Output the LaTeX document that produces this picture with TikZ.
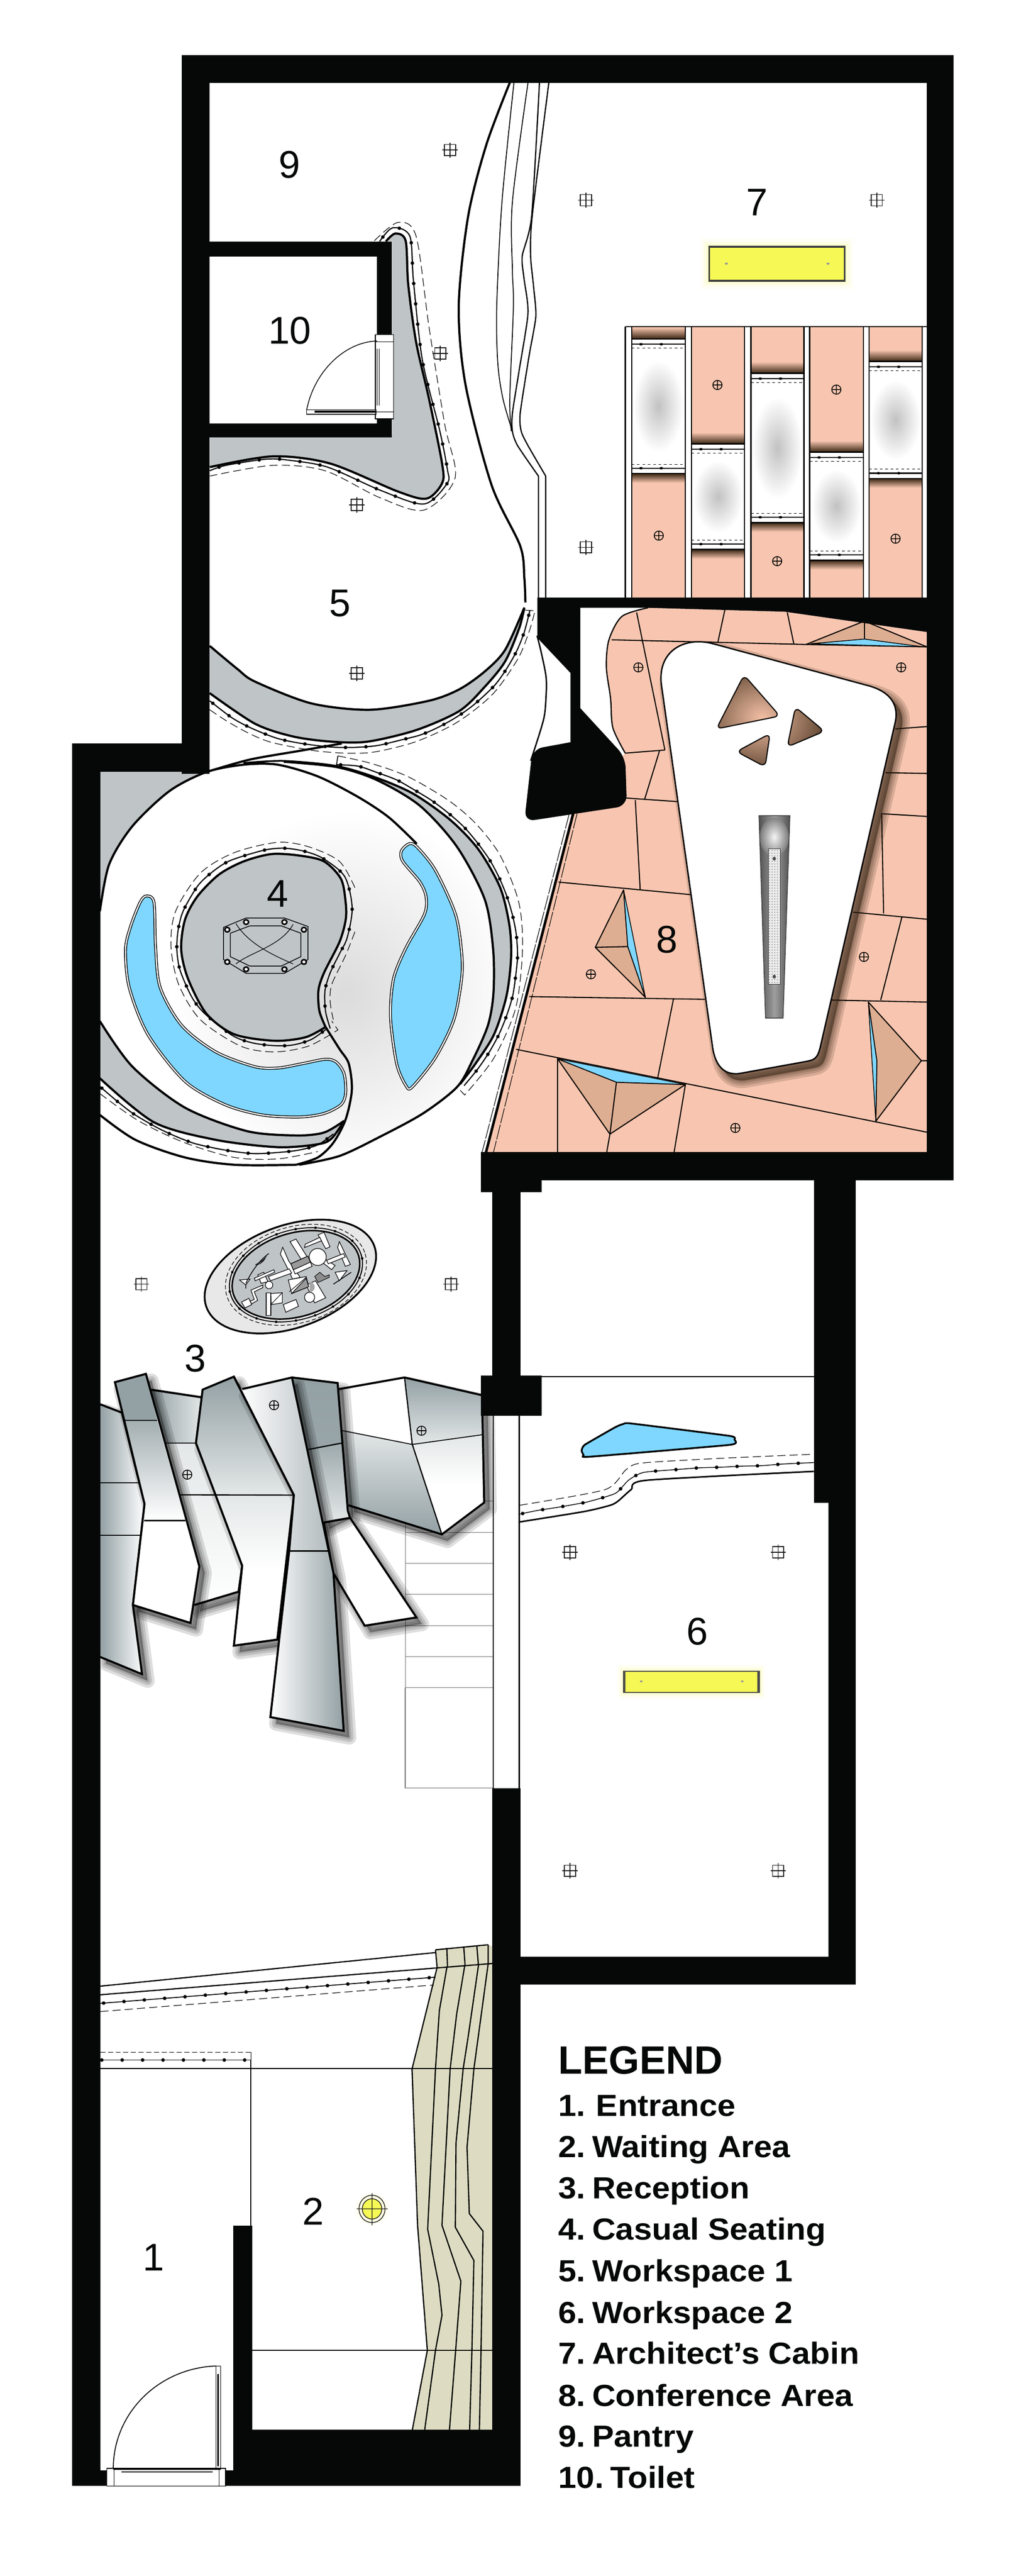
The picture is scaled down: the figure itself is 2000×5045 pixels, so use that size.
\documentclass[tikz,border=0pt]{standalone}
\usepackage{fontspec}
\setmainfont{Liberation Sans}
\usetikzlibrary{decorations.markings,patterns}
\definecolor{wallc}{HTML}{060808}
\definecolor{floorgray}{HTML}{BFC4C7}
\definecolor{pinkf}{HTML}{F8C6B0}
\definecolor{tanf}{HTML}{DEAE92}
\definecolor{bluef}{HTML}{7FD7FF}
\definecolor{yellowf}{HTML}{F6F955}
\definecolor{beigef}{HTML}{DDDCC3}
\definecolor{fing}{HTML}{93A0A4}
\definecolor{finl}{HTML}{E3E7E7}
\tikzset{
 z1/.style={shift={(300,80)},x=.20408mm,y=-.14031mm},
 z2/.style={shift={(900,1100)},x=.12755mm,y=-.15306mm},
 z3/.style={shift={(120,1400)},x=.12117mm,y=-.11480mm},
 z4/.style={shift={(120,2250)},x=.12755mm,y=-.14031mm},
 z5/.style={shift={(900,2200)},x=.10204mm,y=-.20408mm},
 z6/.style={shift={(120,3700)},x=.12755mm,y=-.15306mm},
 z8/.style={shift={(400,850)},x=.1mm,y=-.1mm},
 z9/.style={shift={(190,2650)},x=.10842mm,y=-.10842mm},
 z10/.style={shift={(400,2380)},x=.06667mm,y=-.06667mm},
 thickedge/.style={line width=.85mm,black,line join=round},
 midedge/.style={line width=.48mm,black,line join=round},
 thinedge/.style={line width=.35mm,black,line join=round},
 dashrail/.style={line width=.24mm,black,dash pattern=on 3.2mm off 1.6mm},
 railline/.style={line width=.45mm,black,postaction={decorate,decoration={markings,
   mark=between positions 0.01 and 0.995 step 8mm with {\fill (0,0) circle (.7mm);}}}},
 tinyrail/.style={line width=.3mm,black,postaction={decorate,decoration={markings,
   mark=between positions 0.01 and 0.995 step 7.8mm with {\fill (0,0) circle (.5mm);}}}},
 finedge/.style={line width=.8mm,black,line join=miter},
 floorline/.style={line width=.42mm,black},
 pyramid/.style={fill=tanf,draw=black,line width=.42mm,line join=round},
 sliver/.style={fill=bluef,draw=black,line width=.3mm,line join=round},
 pool/.style={draw=black,double=white,double distance=.5mm,line width=.3mm,line join=round,fill=bluef},
 bits/.style={fill=white,draw=black,line width=.24mm,line join=miter},
 stairline/.style={line width=.24mm,black!55},
 roomno/.style={font=\fontsize{43}{43}\selectfont,text=wallc,inner sep=0pt,anchor=center},
 legendtxt/.style={font=\fontsize{34}{34}\bfseries\selectfont,text=wallc,inner sep=0pt,anchor=base west,xscale=1.07,transform shape},
 legendhead/.style={font=\fontsize{44}{44}\bfseries\selectfont,text=wallc,inner sep=0pt,anchor=base west,transform shape},
}
\newcommand{\softshadow}[1]{\foreach \w in {5.5,3.4,1.6}{\filldraw[draw=black,fill=black,opacity=.13,line width=\w mm,line join=round,xshift=2.2mm,yshift=-2.6mm] #1;}}
\newcommand{\gridlamp}[2]{\draw[line width=.36mm,black!90] (#1-11,#2-11) rectangle (#1+11,#2+11) (#1-15,#2) -- (#1+15,#2) (#1,#2-15) -- (#1,#2+15);}
\newcommand{\pluslamp}[2]{\draw[line width=.32mm,black] (#1,#2) circle [radius=9] (#1-9,#2) -- (#1+9,#2) (#1,#2-9) -- (#1,#2+9);}
\newcommand{\tabletop}{(622,320) .. controls (605,230) and (690,190) .. (780,210) -- (1260,318) .. controls (1330,335) and (1350,370) .. (1340,410) -- (1110,1240) .. controls (1100,1275) and (1090,1275) .. (1060,1280) -- (860,1310) .. controls (810,1315) and (785,1285) .. (778,1240) -- cycle}
\begin{document}
\begin{tikzpicture}[x=.2mm,y=-.2mm]
\useasboundingbox (0,0) rectangle (2000,5045);
\fill[white] (0,0) rectangle (2000,5045);

%% ---------------- Conference floor (8)
\begin{scope}[z2]
\fill[pinkf] (85,1512) -- (345,645) -- (510,490) -- plot[smooth,tension=.5] coordinates {(510,490) (472,425) (465,350) (452,270) (460,200) (500,140) (580,118)} -- (1000,128) -- (1437,180) -- (1437,1512) -- cycle;
\draw[midedge] plot[smooth,tension=.5] coordinates {(510,490) (472,425) (465,350) (452,270) (460,200) (500,140) (580,118)};
\draw[floorline] (545,130)--(632,482) (468,200)--(1070,212) (817,120)--(795,205) (1008,130)--(1028,210)
 (510,490)--(632,482) (615,485)--(570,607) (498,604)--(670,614) (541,610)--(556,840) (305,820)--(710,852)
 (1340,428)--(1437,422) (1310,540)--(1437,542) (1298,645)--(1437,652) (1298,645)--(1304,900)
 (1210,897)--(1437,915) (1360,910)--(1295,1122) (1145,1122)--(1437,1127) (215,1113)--(755,1120)
 (658,1120)--(610,1320) (175,1248)--(1437,1460) (695,1338)--(660,1512) (302,1272)--(302,1512)
 (463,1465)--(453,1512) (1283,1277)--(1437,1277);
% pyramids
\draw[pyramid] (1065,212)--(1245,152)--(1437,218)--cycle; \draw[floorline] (1245,152)--(1245,198);
\draw[sliver] (1080,210)--(1245,198)--(1425,218)--cycle;
\draw[pyramid] (302,1272)--(463,1465)--(695,1338)--(483,1332)--cycle; \draw[floorline] (483,1332)--(463,1465);
\draw[sliver] (302,1272)--(695,1338)--(483,1332)--cycle;
\draw[pyramid] (505,840)--(418,987)--(572,1115)--(518,985)--cycle; \draw[floorline] (418,987)--(518,985);
\draw[sliver] (505,840)--(572,1115)--(518,985)--cycle;
\draw[pyramid] (1257,1127)--(1420,1277)--(1280,1432)--(1283,1277)--cycle;
\draw[sliver] (1257,1127)--(1280,1432)--(1283,1277)--cycle;
% edge rails
\draw[thickedge,line width=1mm] (350,645)--(82,1512);
\draw[dashrail,dash pattern=on 6mm off .6mm] (338,645)--(70,1512);
\draw[dashrail,dash pattern=on 6mm off .6mm] (362,645)--(105,1512);
% table
\foreach \w in {6,4,2.2,.8}{\filldraw[draw=black!75!brown,fill=black!75!brown,opacity=.17,line width=\w mm,xshift=2.4mm,yshift=-2.6mm,line join=round] \tabletop;}
\filldraw[fill=white,draw=black,line width=.55mm] \tabletop;
\foreach \p in {
 {(875,290)--(985,395)--(790,428)--cycle},
 {(1033,372)--(1122,434)--(1008,474)--cycle},
 {(955,440)--(940,525)--(852,486)--cycle}}{
 \begin{scope}
  \path[rounded corners=2.2mm,clip] \p;
  \fill[black!72!brown!60!pinkf] (700,200) rectangle (1200,600);
  \shade[inner color=pinkf!90!brown,outer color=black!70!brown] (930,400) ellipse [x radius=250,y radius=180];
 \end{scope}
 \draw[line width=.42mm,rounded corners=2.2mm] \p;
}
% slot
\shade[left color=black!68,right color=black!68,middle color=black!38] (921,650)--(1016,650)--(995,1168)--(941,1168)--cycle;
\begin{scope}
\clip (921,650)--(1016,650)--(995,1168)--(941,1168)--cycle;
\shade[inner color=white,outer color=black!50,opacity=.9] (968,705) ellipse [x radius=44,y radius=50];
\end{scope}
\draw[line width=.3mm,black!75] (921,650)--(1016,650)--(995,1168)--(941,1168)--cycle;
\filldraw[fill=black!8,draw=black!80,line width=.25mm] (950,735) rectangle (987,1082);
\fill[pattern=dots,pattern color=black!65] (950,735) rectangle (987,1082);
\fill[black!70] (968,760) circle [radius=5] (968,1062) circle [radius=5];
\end{scope}

%% ---------------- Cabin planks (7)
\begin{scope}[z1]
\foreach \xa/\xb/\ya/\yb in {919/1022/832/1208,1034/1136/1125/1420,1148/1250/928/1345,1261/1364/1148/1450,1375/1477/895/1222}{
 \fill[pinkf] (\xa,798) rectangle (\xb,1555);
 \shade[top color=pinkf,bottom color=black!70!brown] (\xa,\ya-32) rectangle (\xb,\ya);
 \shade[top color=black!70!brown,bottom color=pinkf] (\xa,\yb) rectangle (\xb,\yb+26);
 \fill[white] (\xa,\ya) rectangle (\xb,\yb);
 \shade[inner color=black!24,outer color=white] ({(\xa+\xb)/2},{(\ya+\yb)/2}) ellipse [x radius=48,y radius={(\yb-\ya)*.34}];
 \draw[line width=.45mm] (\xa,\ya)--(\xb,\ya) (\xa,\ya+15)--(\xb,\ya+15) (\xa,\yb)--(\xb,\yb) (\xa,\yb-15)--(\xb,\yb-15);
 \draw[line width=.15mm,dashed] (\xa,\ya+26)--(\xb,\ya+26) (\xa,\yb-26)--(\xb,\yb-26);
 \fill ({\xa+18},\ya+15) circle [radius=3.5] ({\xa+57},\ya+15) circle [radius=3.5] ({\xa+18},\yb-15) circle [radius=3.5] ({\xa+57},\yb-15) circle [radius=3.5];
}
\foreach \xa in {907,919,1022,1034,1136,1148,1250,1261,1364,1375,1477}{\draw[midedge] (\xa,798)--(\xa,1555);}
\draw[midedge] (907,798)--(1486,798);
% yellow
\foreach \g/\o in {16/.06,10/.1,5/.16}{\fill[yellowf,opacity=\o] (1068-\g,575-1.4*\g) rectangle (1328+\g,670+1.4*\g);}
\filldraw[fill=yellowf,draw=black!75,line width=.7mm] (1068,575) rectangle (1328,670);
\fill[black!40] (1101,622) circle [radius=3] (1296,622) circle [radius=3];
% pantry grey
\fill[floorgray] (109,1100)--(459,1100)--(459,560)-- plot[smooth,tension=.5] coordinates {(447,560) (465,538) (485,558) (490,680) (505,840) (530,1000) (555,1180) (555,1235) (525,1278) (470,1258) (340,1180) (230,1160) (109,1190)} -- cycle;
\draw[thickedge] plot[smooth,tension=.5] coordinates {(447,560) (465,538) (485,558) (490,680) (505,840) (530,1000) (555,1180) (555,1235) (525,1278) (470,1258) (340,1180) (230,1160) (109,1190)};
\draw[railline] plot[smooth,tension=.5] coordinates {(435,560) (460,522) (493,545) (500,670) (517,890) (550,1085) (565,1195) (565,1235) (520,1293) (437,1255) (335,1190) (257,1170) (215,1168) (140,1185) (109,1200)};
\draw[dashrail] plot[smooth,tension=.5] coordinates {(425,558) (470,507) (505,545) (530,800) (560,1070) (580,1220) (520,1310) (435,1275) (330,1200) (230,1185) (109,1215)};
% curved divider
\draw[thickedge] plot[smooth,tension=.5] coordinates {(685,117) (640,290) (605,490) (587,740) (600,960) (650,1240) (705,1410) (713,1500) (715,1568)};
\draw[thinedge] plot[smooth,tension=.5] coordinates {(693,117) (670,450) (660,740) (662,900) (672,1000) (690,1090)};
\draw[thinedge] plot[smooth,tension=.5] coordinates {(720,117) (690,450) (690,640) (692,740) (685,1000) (688,1090)};
\draw[midedge] plot[smooth,tension=.4] coordinates {(742,117) (727,490) (709,600) (712,660) (720,760) (703,920) (690,1040) (690,1090) (700,1130) (740,1215)} -- (740,1555);
\draw[midedge] plot[smooth,tension=.4] coordinates {(760,117) (728,490) (725,600) (731,690) (735,770) (722,880) (705,1040) (707,1090) (720,1130) (754,1215)} -- (754,1555);
\end{scope}

%% ---------------- Workspace 1 (5)
\begin{scope}[z8]
\fill[floorgray] plot[smooth,tension=.5] coordinates {(1255,680) (1180,845) (1100,930) (1000,1000) (880,1045) (650,1080) (420,1055) (200,970) (130,920) (22,830)} -- plot[smooth,tension=.5] coordinates {(22,1015) (200,1135) (350,1185) (500,1205) (640,1205) (830,1160) (1000,1085) (1100,990) (1180,890) (1235,760) (1255,680)} -- cycle;
\draw[thickedge] plot[smooth,tension=.5] coordinates {(1255,680) (1180,845) (1100,930) (1000,1000) (880,1045) (650,1080) (420,1055) (200,970) (130,920) (22,830)};
\draw[thickedge] plot[smooth,tension=.5] coordinates {(22,1015) (200,1135) (350,1185) (500,1205) (640,1205) (830,1160) (1000,1085) (1100,990) (1180,890) (1235,760) (1255,680)};
\draw[railline] plot[smooth,tension=.5] coordinates {(22,1045) (110,1112) (185,1152) (280,1190) (358,1208) (440,1220) (515,1227) (600,1227) (680,1220) (765,1200) (850,1178) (925,1145) (995,1105) (1060,1058) (1138,985) (1185,920) (1225,850) (1255,775) (1277,690)};
\draw[dashrail] plot[smooth,tension=.5] coordinates {(22,1080) (90,1125) (175,1172) (265,1208) (430,1240) (560,1250) (670,1245) (830,1205) (990,1130) (1130,1020) (1230,880) (1275,770) (1297,692)} -- (1258,690);
\draw[thickedge] plot[smooth,tension=.5] coordinates {(22,1320) (180,1275) (380,1240) (540,1212)};
\draw[midedge,line width=.55mm] plot[smooth,tension=.5] coordinates {(1305,790) (1320,850) (1340,950) (1340,1030) (1330,1120) (1280,1280)};
\end{scope}

%% ---------------- Casual seating (4)
\begin{scope}[z3]
\fill[floorgray] (125,193)--(480,190)--(125,680)--cycle;
% lower grey crescent
\fill[floorgray] plot[smooth,tension=.5] coordinates {(125,1045) (230,1200) (400,1340) (600,1420) (760,1435) (850,1425) (915,1385)} -- plot[smooth,tension=.5] coordinates {(915,1385) (875,1445) (830,1465) (700,1475) (500,1450) (300,1390) (125,1240)} -- cycle;
\draw[thickedge] plot[smooth,tension=.5] coordinates {(915,1385) (875,1445) (830,1465) (700,1475) (500,1450) (300,1390) (125,1240)};
\draw[railline] plot[smooth,tension=.5] coordinates {(125,1268) (183,1320) (235,1362) (308,1407) (368,1437) (430,1462) (495,1478) (560,1490) (627,1497) (702,1493) (768,1485) (830,1467) (880,1430)};
\draw[dashrail] plot[smooth,tension=.5] coordinates {(125,1292) (250,1385) (400,1460) (560,1510) (700,1515) (830,1490)};
\draw[thickedge] plot[smooth,tension=.5] coordinates {(125,1365) (240,1450) (400,1510) (560,1535) (760,1535)};
% right grey crescent
\fill[floorgray] plot[smooth,tension=.5] coordinates {(1000,205) (1140,270) (1260,360) (1350,460) (1420,590) (1450,720) (1455,830) (1440,960) (1400,1090) (1340,1190) (1290,1260)} -- plot[smooth,tension=.5] coordinates {(1290,1255) (1330,1180) (1380,1060) (1398,950) (1397,800) (1370,630) (1280,450) (1160,310) (1020,222) (1000,205)} -- cycle;
\draw[thickedge] plot[smooth,tension=.5] coordinates {(590,165) (720,158) (890,175) (1020,215) (1140,270) (1260,360) (1350,460) (1420,590) (1450,720) (1455,830) (1440,960) (1400,1090) (1340,1190) (1290,1260)};
\draw[railline] plot[smooth,tension=.5] coordinates {(890,170) (960,175) (1022,197) (1085,222) (1142,256) (1198,292) (1252,335) (1302,382) (1345,435) (1384,492) (1415,552) (1441,618) (1460,685) (1472,750) (1476,823) (1470,890) (1460,960) (1440,1028) (1415,1092) (1383,1153) (1346,1210) (1303,1265)};
\draw[thinedge] (890,172)--(895,140);
\draw[dashrail] plot[smooth,tension=.5] coordinates {(895,140) (1000,165) (1120,210) (1250,290) (1340,370) (1420,480) (1480,640) (1492,800) (1470,1000) (1400,1170) (1305,1297)} -- (1285,1275);
% disc
\begin{scope}
\clip plot[smooth,tension=.5] coordinates {(125,670) (155,510) (230,380) (350,260) (470,195) (590,170) (720,160) (890,178) (1020,222) (1160,310) (1280,450) (1370,630) (1397,800) (1398,950) (1380,1060) (1330,1180) (1280,1270) (1170,1360) (1030,1440) (900,1505) (770,1535)} -- plot[smooth,tension=.5] coordinates {(770,1535) (830,1510) (880,1460) (915,1385)} -- plot[smooth,tension=.5] coordinates {(915,1385) (850,1425) (760,1435) (600,1420) (400,1340) (230,1200) (125,1045)} -- cycle;
\fill[white] (0,0) rectangle (1568,1568);
\shade[inner color=black!14,outer color=white] (920,950) ellipse [x radius=560,y radius=620];
\end{scope}
\draw[thickedge] plot[smooth,tension=.5] coordinates {(125,670) (155,510) (230,380) (350,260) (470,195) (590,170) (700,170) (830,210) (960,280) (1060,350) (1150,440)};
\draw[thickedge] plot[smooth,tension=.5] coordinates {(720,160) (890,178) (1020,222) (1160,310) (1280,450) (1370,630) (1397,800) (1398,950) (1380,1060) (1330,1180) (1280,1270) (1170,1360) (1030,1440) (900,1505) (770,1535)};
\draw[thickedge] plot[smooth,tension=.5] coordinates {(915,1385) (850,1425) (760,1435) (600,1420) (400,1340) (230,1200) (125,1045)};
% kidney
\filldraw[thickedge,fill=floorgray] plot[smooth,tension=.5] coordinates {(855,1065) (835,1010) (832,940) (850,880) (900,775) (920,700) (920,640) (905,560) (850,500) (770,480) (680,475) (590,500) (510,545) (440,620) (400,700) (388,800) (410,900) (470,1020) (560,1090) (690,1112) (790,1100) (855,1065)};
\draw[thickedge] plot[smooth,tension=.5] coordinates {(760,1535) (830,1510) (880,1460) (920,1380) (940,1280) (930,1190) (900,1140) (855,1065)};
\draw[railline] plot[smooth,tension=.5] coordinates {(860,1070) (808,1108) (745,1127) (680,1128) (614,1118) (552,1093) (465,1020) (423,964) (385,873) (374,803) (378,735) (395,668) (442,583) (490,535) (547,497) (655,462) (720,455) (785,465) (847,490) (917,552) (941,658) (925,760) (900,815) (870,880) (853,942) (855,1012) (870,1070)};
\draw[dashrail] plot[smooth,tension=.5] coordinates {(950,590) (900,500) (800,450) (700,435) (560,470) (450,540) (370,670) (355,790) (380,920) (450,1040) (580,1130) (690,1150) (800,1130) (895,1075)} -- (875,1045);
\draw[dashrail] plot[smooth,tension=.5] coordinates {(950,740) (920,820) (875,920) (870,980) (880,1040)};
% table
\draw[thinedge,line width=.3mm] (598,693)--(722,693)--(798,722)--(798,835)--(722,882)--(598,882)--(525,835)--(525,725)--cycle;
\draw[thinedge,line width=.3mm] (610,720)--(712,720)--(775,745)--(775,825)--(712,857)--(610,857)--(547,825)--(547,745)--cycle;
\draw[line width=.25mm] (565,712) .. controls (610,790) and (710,830) .. (750,850) (750,715) .. controls (710,790) and (610,810) .. (565,850);
\foreach \cx/\cy in {537/733,598/707,722/707,785/733,537/843,598/868,722/868,785/843}{\filldraw[fill=white,draw=black,line width=.6mm] (\cx,\cy) circle [radius=8];}
% pools
\filldraw[pool] plot[smooth cycle,tension=.5] coordinates {(275,618) (300,640) (305,790) (320,930) (390,1060) (500,1150) (625,1200) (700,1205) (780,1190) (855,1175) (890,1185) (915,1225) (920,1290) (905,1330) (850,1360) (770,1372) (650,1365) (530,1330) (400,1250) (280,1090) (220,930) (208,800) (225,720) (255,640)};
\filldraw[pool] plot[smooth cycle,tension=.5] coordinates {(1125,440) (1150,450) (1210,530) (1275,680) (1295,810) (1295,900) (1270,1040) (1210,1170) (1135,1270) (1115,1265) (1085,1190) (1065,1030) (1075,900) (1115,795) (1175,680) (1180,620) (1160,570) (1105,500) (1100,465)};
\end{scope}

%% ---------------- Reception (3): oval
\begin{scope}[z10]
\filldraw[fill=black!9,draw=black,line width=.7mm,rotate around={20:(507,360)}] (507,360) ellipse [x radius=525,y radius=300];
\filldraw[fill=floorgray,draw=black,line width=.6mm,rotate around={17:(540,350)}] (540,350) ellipse [x radius=385,y radius=245];
\draw[line width=.3mm,rotate around={17:(540,350)}] (540,350) ellipse [x radius=400,y radius=262];
\draw[tinyrail,rotate around={17:(540,350)}] (540,350) ellipse [x radius=402,y radius=262];
\draw[dashrail,dash pattern=on 1.6mm off .9mm,rotate around={17:(540,350)}] (540,350) ellipse [x radius=425,y radius=282];
\foreach \q in {
 {(448,228)--(462,188)--(498,270)--(565,365)--(520,375)--(500,330)--cycle},
 {(505,155)--(540,140)--(625,275)--(590,290)--cycle},
 {(510,285)--(610,240)--(635,300)--(535,345)--cycle},
 {(680,265)--(700,250)--(770,295)--(750,320)--cycle},
 {(670,115)--(705,100)--(740,185)--(715,197)--cycle},
 {(595,170)--(680,130)--(690,150)--(590,190)--cycle},
 {(785,190)--(795,155)--(860,290)--(830,300)--cycle},
 {(720,265)--(820,225)--(830,245)--(730,285)--cycle},
 {(770,335)--(840,325)--(795,385)--cycle},
 {(495,380)--(600,360)--(615,420)--(515,460)--cycle},
 {(600,410)--(655,385)--(715,485)--(650,515)--cycle},
 {(365,455)--(392,455)--(392,590)--(365,590)--cycle},
 {(392,460)--(460,455)--(460,515)--(395,525)--cycle},
 {(465,525)--(540,495)--(555,535)--(480,570)--cycle},
 {(220,510)--(263,488)--(280,525)--(240,545)--cycle},
 {(275,440)--(345,410)--(345,425)--(295,450)--(315,500)--(280,520)--(270,505)--(295,495)--cycle},
 {(315,350)--(350,335)--(375,390)--(335,400)--cycle},
 {(378,360)--(500,315)--(515,340)--(390,385)--cycle},
 {(295,370)--(410,320)--(415,335)--(300,385)--cycle},
 {(208,380)--(270,375)--(245,410)--cycle}}{\filldraw[bits] \q;}
\filldraw[fill=black!45,draw=black,line width=.2mm] (650,360)--(680,335)--(710,360)--(735,350)--(735,365)--(670,395)--cycle;
\filldraw[bits,fill=black!40] (510,285)--(560,263)--(610,240)--(625,275)--(560,305)--(525,320)--cycle;
\filldraw[bits] (668,245) circle [radius=50];
\filldraw[bits] (382,410) circle [radius=22];
\filldraw[bits] (620,482) circle [radius=30];
\fill[black!35] (620,452) arc [start angle=90,end angle=-90,radius=30] -- cycle;
\draw[line width=.2mm] (392,525)--(460,455) (500,450)--(600,365);
\filldraw[bits,fill=black!40] (515,460)--(600,370)--(615,420)--cycle;
\draw[line width=.3mm] (245,400) .. controls (280,330) and (320,270) .. (380,225);
\filldraw[bits,fill=black!40] (305,290) .. controls (330,290) and (350,270) .. (360,250) -- (345,265) -- cycle;
\draw[line width=.3mm] (760,405)--(865,335) (245,410)--(245,430);
\end{scope}

%% ---------------- stairs
\draw[stairline] (794,3305)--(794,3502)--(966,3502);
\begin{scope}[z9]
\foreach \yy in {535,648,760,872,985,1097,1208}{\draw[stairline] (1115,\yy)--(1432,\yy);}
\draw[stairline] (1115,535)--(1115,1208);
\draw[midedge] (1433,225)--(1433,1572);
\draw[midedge] (1527,225)--(1527,1572);
% fin A
\softshadow{(12,185)--(90,215)--(172,545)--(130,910)--(163,1160)--(12,1098)--cycle}
\shade[left color=fing,right color=white,draw=none] (12,185)--(90,215)--(172,545)--(130,910)--(163,1160)--(12,1098)--cycle;
\draw[finedge] (12,185)--(90,215)--(172,545)--(130,910)--(163,1160)--(12,1098);
\draw[midedge] (12,468)--(150,468) (12,658)--(155,658);
% fin B
\softshadow{(195,132)--(380,160)--(358,325)--(430,512)--(525,768)--(512,862)--(352,910)--(370,770)--(250,325)--cycle}
\shade[top color=finl,bottom color=white] (250,325)--(358,325)--(430,512)--(525,768)--(512,862)--(352,910)--(370,770)--cycle;
\shade[left color=fing,right color=finl] (195,132)--(380,160)--(358,325)--(250,325)--cycle;
\draw[finedge] (195,132)--(380,160)--(358,325)--(430,512)--(525,768)--(512,862)--(352,910);
\draw[midedge] (250,325)--(358,325);
% fin C
\softshadow{(65,105)--(177,75)--(370,770)--(338,975)--(130,910)--(172,545)--cycle}
\fill[white] (65,105)--(177,75)--(370,770)--(338,975)--(130,910)--(172,545)--cycle;
\fill[fing] (65,105)--(177,75)--(218,243)--(100,243)--cycle;
\shade[top color=fing!85,bottom color=white] (100,243)--(218,243)--(320,605)--(170,605)--(172,545)--cycle;
\draw[finedge] (65,105)--(177,75)--(370,770)--(338,975)--(130,910)--(172,545)--cycle;
\draw[midedge] (100,243)--(218,243) (170,605)--(320,605);
% fin D
\softshadow{(382,132)--(495,85)--(712,513)--(652,1035)--(495,1057)--(525,768)--(358,325)--cycle}
\shade[top color=fing,bottom color=finl] (382,132)--(495,85)--(712,513)--(430,512)--(358,325)--cycle;
\shade[top color=finl,bottom color=white,middle color=white] (430,512)--(712,513)--(652,1035)--(495,1057)--(525,768)--cycle;
\draw[finedge] (382,132)--(495,85)--(712,513)--(652,1035)--(495,1057)--(525,768)--(358,325)--cycle;
\draw[midedge] (300,512)--(712,513);
% fin H
\softshadow{(875,130)--(1112,88)--(1392,152)--(1400,540)--(1247,655)--(910,550)--cycle}
\fill[white] (875,130)--(1112,88)--(1140,330)--(888,280)--cycle;
\shade[top color=fing,bottom color=finl] (1112,88)--(1392,152)--(1392,295)--(1140,330)--cycle;
\shade[top color=finl,bottom color=fing] (888,280)--(1140,330)--(1247,655)--(910,550)--cycle;
\shade[top color=finl,bottom color=white,middle color=white] (1140,330)--(1392,295)--(1400,540)--(1247,655)--cycle;
\draw[finedge] (875,130)--(1112,88)--(1392,152)--(1400,540)--(1247,655)--(910,550);
\draw[midedge] (1112,88)--(1140,330)--(1247,655);
\draw[thinedge] (888,280)--(1140,330)--(1392,295);
% fin G
\softshadow{(820,612)--(915,595)--(1155,955)--(968,985)--(855,795)--cycle}
\filldraw[finedge,fill=white] (820,612)--(915,595)--(1155,955)--(968,985)--(855,795)--cycle;
% fin F
\softshadow{(705,88)--(870,108)--(907,570)--(820,612)--cycle}
\shade[top color=fing,bottom color=fing!95] (705,88)--(870,108)--(885,325)--(765,348)--cycle;
\shade[top color=fing!90,bottom color=finl] (765,348)--(885,325)--(907,570)--(915,595)--(820,612)--cycle;
\draw[finedge] (705,88)--(870,108)--(907,570)--(915,595)--(820,612);
\draw[midedge] (765,348)--(885,325);
% fin E
\softshadow{(518,130)--(705,88)--(855,795)--(892,1365)--(627,1315)--(695,715)--(712,513)--cycle}
\shade[left color=white,right color=fing!70] (518,130)--(705,88)--(835,715)--(695,715)--(712,513)--cycle;
\shade[left color=white,right color=fing] (695,715)--(835,715)--(855,795)--(892,1365)--(627,1315)--cycle;
\draw[finedge] (525,130)--(705,88)--(855,795)--(892,1365)--(627,1315)--(695,715)--(712,513)--(495,85);
\draw[midedge] (695,715)--(835,715);
\end{scope}

%% ---------------- Workspace 2 (6)
\begin{scope}[z5]
\draw[midedge,line width=.5mm] (315,486)--(1362,486);
\draw[line width=.7mm,fill=bluef,line join=round] plot[smooth cycle,tension=.25] coordinates {(470,628) (482,617) (600,583) (630,577) (660,576) (1040,600) (1057,607) (1040,617) (497,640) (478,637)};
\draw[thickedge,line width=.6mm] plot[smooth,tension=.4] coordinates {(232,765) (480,745) (580,733) (610,725) (660,703) (720,685) (1362,668)};
\draw[railline,line width=.3mm] plot[smooth,tension=.4] coordinates {(232,750) (300,743) (378,737) (457,730) (497,726) (600,710) (650,685) (708,670) (848,664) (926,661) (1004,660) (1084,658) (1161,657) (1239,654) (1319,652) (1362,651)};
\draw[dashrail] plot[smooth,tension=.4] coordinates {(232,733) (560,703) (640,665) (700,652) (1000,643) (1362,635)};
\foreach \g/\o in {20/.07,12/.1,5/.16}{\fill[yellowf,opacity=\o] (630-\g,1052-.6*\g) rectangle (1153+\g,1092+.6*\g);}
\filldraw[fill=yellowf,draw=black!70,line width=.35mm] (630,1052) rectangle (1153,1092);
\fill[black!70] (630,1052) rectangle (638,1092) (1145,1052) rectangle (1153,1092);
\fill[black!40] (699,1071) ellipse [x radius=5,y radius=2] (1087,1071) ellipse [x radius=5,y radius=2];
\end{scope}

%% ---------------- Waiting (2) + entrance (1)
\begin{scope}[z6]
\fill[beigef] (1150,155)--(1312,142)--(1325,146)--(1325,1383)--(1079,1383)--(1125,1180)--(1095,860)--(1078,460)--(1155,200)--cycle;
\draw[midedge] (1155,200)--(1078,460)--(1095,860)--(1125,1180)--(1079,1383);
\draw[midedge] (1185,200)--(1162,310)--(1150,460)--(1126,870)--(1160,1010)--(1170,1090)--(1150,1180)--(1117,1383);
\draw[midedge] (1240,195)--(1215,320)--(1195,460)--(1170,860)--(1228,1003)--(1212,1180)--(1193,1383);
\draw[midedge] (1282,195)--(1250,380)--(1235,460)--(1213,650)--(1211,865)--(1268,950)--(1262,1180)--(1255,1383);
\draw[midedge] (1312,190)--(1268,460)--(1247,660)--(1254,830)--(1296,875)--(1290,1180)--(1285,1383);
\draw[midedge] (1150,155)--(1155,200) (1185,150)--(1187,200) (1237,148)--(1241,195) (1277,144)--(1282,195) (1312,142)--(1312,190) (1150,155)--(1312,142);
\draw[midedge] (120,248)--(1150,162) (120,270)--(1325,190);
\draw[railline,line width=.35mm] (120,292)--(1150,225);
\draw[dashrail] (120,313)--(1145,245);
\draw[thinedge] (120,459)--(1325,459) (587,1180)--(1325,1180);
\draw[thinedge] (582,437)--(582,862);
\draw[railline,line width=.3mm] (120,437)--(583,437);
\draw[dashrail,dash pattern=on 2mm off 1mm] (120,417)--(583,417);
\draw[thinedge,line width=.2mm] (583,417)--(583,437);
\foreach \g/\o in {52/.06,44/.1}{\fill[yellowf,opacity=\o] (955,818) ellipse [x radius=\g,y radius=\g*.8];}
\filldraw[fill=yellowf,draw=black!85,line width=.3mm] (955,818) ellipse [x radius=30,y radius=26];
\draw[black!85,line width=.3mm] (955,818) ellipse [x radius=40,y radius=35] (908,818)--(1003,818) (955,778)--(955,860);
\end{scope}

%% ---------------- Walls
\fill[wallc] (356,108) rectangle (1869,162);
\fill[wallc] (356,108) rectangle (411,1516);
\fill[wallc] (141,1456) rectangle (411,1511);
\fill[wallc] (141,1456) rectangle (197,4868);
\fill[wallc] (1816,108) rectangle (1869,2312);
\fill[wallc] (411,473) rectangle (768,502);
\fill[wallc] (739,473) rectangle (768,857);
\fill[wallc] (411,829) rectangle (768,857);
\begin{scope}[z2]
\fill[wallc] (240,92)--(1437,92)--(1437,180)--(1000,128)--(580,118)--(372,118)--(372,375)[rounded corners=4mm]--(510,500)--(515,625)--(200,665)--(225,480)[sharp corners]--(342,462)--(342,285)--(240,195)--cycle;
\end{scope}
\fill[wallc] (943,2256) rectangle (1869,2312);
\fill[wallc] (942,2256) rectangle (1061,2335);
\fill[wallc] (965,2335) rectangle (1020,2694);
\fill[wallc] (942,2694) rectangle (1061,2773);
\fill[wallc] (965,3502) rectangle (1020,4868);
\fill[wallc] (1595,2312) rectangle (1677,2943);
\fill[wallc] (1623,2943) rectangle (1677,3887);
\fill[wallc] (1020,3832) rectangle (1677,3887);
\fill[wallc] (494,4758) rectangle (1020,4868);
\fill[wallc] (457,4359) rectangle (494,4868);
\fill[wallc] (141,4838) rectangle (457,4868);

%% ---------------- Doors
\begin{scope}[z6]
\filldraw[fill=white,draw=black,line width=.25mm] (140,1482) rectangle (505,1527);
\draw[line width=.25mm] (162,1482)--(162,1527) (485,1482)--(485,1527);
\draw[line width=.6mm] (160,1484)--(490,1484);
\draw[line width=.25mm] (185,1491)--(465,1491);
\filldraw[fill=white,draw=black,line width=.25mm] (476,1220) rectangle (490,1482);
\draw[line width=.5mm] (482,1240)--(482,1476);
\draw[line width=.35mm] (476,1220) .. controls (300,1225) and (160,1340) .. (160,1482);
\end{scope}
\begin{scope}[z1]
\filldraw[fill=white,draw=black,line width=.3mm] (427,820) rectangle (462,1055);
\draw[line width=.25mm] (427,840)--(462,840) (427,1036)--(462,1036) (434,860)--(434,1018) (430,860)--(430,1018);
\filldraw[fill=white,draw=black,line width=.3mm] (295,1030) rectangle (428,1042);
\fill[black] (310,1032) rectangle (428,1038);
\draw[line width=.3mm] (295,1030) .. controls (310,920) and (370,840) .. (430,838);
\end{scope}

%% ---------------- Lamps
\foreach \px/\py in {882/294,1148/392,1718/392,863/692,699/989,699/1319,1148/1072,277/2515,884/2515,1117/3040,1525/3040,1117/3664,1525/3664}{\gridlamp{\px}{\py}}
\foreach \px/\py in {1291/1049,1406/754,1523/1099,1639/763,1755/1055,1251/1307,1766/1307,1158/1908,1693/1874,1441/2209,537/2752,367/2888,826/2802}{\pluslamp{\px}{\py}}

%% ---------------- Room numbers
\node[roomno] (n9) at (567,323) {9};
\node[roomno] (n7) at (1484,396) {7};
\node[roomno] (n10) at (568,647) {10};
\node[roomno] (n5) at (666,1182) {5};
\node[roomno] (n4) at (544,1750) {4};
\node[roomno] (n8) at (1307,1840) {8};
\node[roomno] (n3) at (383,2660) {3};
\node[roomno] (n6) at (1367,3195) {6};
\node[roomno] (n2) at (614,4331) {2};
\node[roomno] (n1) at (301,4421) {1};

%% ---------------- Legend
\node[legendhead] (lg) at (1094,4062) {LEGEND};
\node[legendtxt] (l1) at (1094,4144) {1.\hspace{.32em}Entrance};
\node[legendtxt] (l2) at (1094,4225) {2.\hspace{.2em}Waiting Area};
\node[legendtxt] (l3) at (1094,4306) {3.\hspace{.2em}Reception};
\node[legendtxt] (l4) at (1094,4387) {4.\hspace{.2em}Casual Seating};
\node[legendtxt] (l5) at (1094,4468) {5.\hspace{.2em}Workspace 1};
\node[legendtxt] (l6) at (1094,4550) {6.\hspace{.2em}Workspace 2};
\node[legendtxt] (l7) at (1094,4630) {7.\hspace{.2em}Architect’s Cabin};
\node[legendtxt] (l8) at (1094,4712) {8.\hspace{.2em}Conference Area};
\node[legendtxt] (l9) at (1094,4792) {9.\hspace{.2em}Pantry};
\node[legendtxt] (l10) at (1094,4873) {10.\hspace{.2em}Toilet};
\end{tikzpicture}
\end{document}
